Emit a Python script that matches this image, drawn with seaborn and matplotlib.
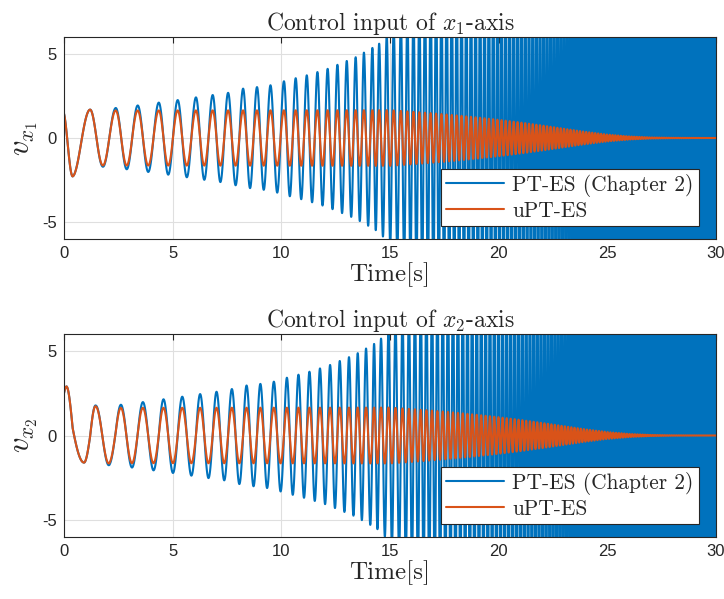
import numpy as np
import pandas as pd
import matplotlib
matplotlib.use("Agg")
import matplotlib.pyplot as plt
import seaborn as sns

# ---------------- data ----------------
# times of the x1 peaks (integer cycles), plus the
# start point (t=0) and the first trough (t=0.4)
x1_phase_t = [0.0, 0.4, 1.2, 2.38, 3.39, 4.36, 5.23, 6.07, 6.84, 7.55, 8.24,
              8.88, 9.5, 10.12, 10.66, 11.17, 11.66, 12.13, 12.58, 13.01,
              13.42, 13.8, 14.19, 14.5, 14.85, 15.17, 15.5, 15.8, 16.08,
              16.35, 16.61, 16.87, 17.12]
x1_phase_cyc = [0.068, 0.5] + list(range(1, 32))
# oscillation frequency (Hz) in the dense part, read from the stroke spacing
dense_t = [17.12, 18.0, 20.0, 22.0, 25.0, 30.0]
dense_hz = [4.0, 4.4, 5.2, 6.1, 7.6, 10.5]
# x2 lags x1 by about a quarter cycle
x2_lag_t = [0.0, 0.12, 0.92, 1.46, 4.0, 30.0]
x2_lag_cyc = [0.164, 0.198, 0.325, 0.22, 0.25, 0.25]

# amplitude envelopes (peak values)
pt_amp_t = [0.0, 0.4, 1.2, 1.75, 2.38, 3.39, 4.36, 5.23, 6.07, 6.84, 7.55,
            8.24, 8.88, 9.56, 10.1, 11.2, 12.1, 13.4, 14.19, 14.5, 14.85,
            15.5, 17.0, 20.0, 30.0]
pt_amp = [1.95, 1.95, 1.77, 1.7, 1.78, 1.93, 2.1, 2.25, 2.41, 2.55, 2.68,
          2.93, 3.02, 3.14, 3.36, 3.73, 4.09, 4.78, 5.35, 5.6, 6.1,
          7.0, 9.0, 12.0, 15.0]
upt_amp_t = [0.0, 0.4, 1.2, 1.75, 15.0, 16.0, 17.0, 18.0, 19.0, 20.0, 21.0,
             22.0, 23.0, 24.0, 25.0, 26.0, 27.0, 28.0, 30.0]
upt_amp = [1.95, 1.95, 1.77, 1.63, 1.65, 1.56, 1.46, 1.35, 1.22, 1.08, 0.92,
           0.74, 0.55, 0.36, 0.2, 0.09, 0.03, 0.01, 0.0]
# x2 start transient (overrides the envelopes before t = 2.1 s)
x2_early_t = [0.0, 0.12, 0.92, 1.46, 2.1]
x2_early_amp_upt = [2.25, 2.25, 1.9, 1.67, 1.65]
x2_early_amp_pt = [2.25, 2.25, 1.9, 1.72, 1.76]
# slow offsets of the start transient
x1_off_t = [0.0, 0.4, 0.8, 1.5]
x1_off = [-0.33, -0.33, -0.2, 0.0]
x2_off_t = [0.0, 0.12, 0.92, 1.46, 2.1]
x2_off = [0.65, 0.65, 0.3, 0.05, 0.0]

series_names = ["PT-ES (Chapter 2)", "uPT-ES"]
titles = [r"Control input of $x_1$-axis", r"Control input of $x_2$-axis"]
ylabels = [r"$v_{x_1}$", r"$v_{x_2}$"]
xticks = [0, 5, 10, 15, 20, 25, 30]
yticks = [-5, 0, 5]

# ---------------- build the signals from the read values ----------------
t = np.linspace(0, 30, 60001)
cyc = np.interp(t, x1_phase_t, x1_phase_cyc)
m = t > x1_phase_t[-1]
f_dense = np.interp(t, dense_t, dense_hz)
dt = t[1] - t[0]
cum = np.cumsum(f_dense * m) * dt
cyc = np.where(m, x1_phase_cyc[-1] + cum, cyc)
lag = np.interp(t, x2_lag_t, x2_lag_cyc)

A_pt = np.interp(t, pt_amp_t, pt_amp)
A_upt = np.interp(t, upt_amp_t, upt_amp)
early = t <= x2_early_t[-1]
A_pt2 = np.where(early, np.interp(t, x2_early_t, x2_early_amp_pt), A_pt)
A_upt2 = np.where(early, np.interp(t, x2_early_t, x2_early_amp_upt), A_upt)
off1 = np.interp(t, x1_off_t, x1_off)
off2 = np.interp(t, x2_off_t, x2_off)

c1 = np.cos(2 * np.pi * cyc)
c2 = np.cos(2 * np.pi * (cyc - lag))
sig = {
    0: (off1 + A_pt * c1, off1 + A_upt * c1),
    1: (off2 + A_pt2 * c2, off2 + A_upt2 * c2),
}

# ---------------- styling ----------------
sns.set_style("white")
plt.rcParams.update({
    "mathtext.fontset": "cm",
    "axes.unicode_minus": False,
    "agg.path.chunksize": 0,
    "path.simplify": False,
    "font.family": ["Liberation Sans", "DejaVu Sans"],
})
blue = "#0072BD"
orange = "#D95319"

fig = plt.figure(figsize=(7.24, 5.99), dpi=100)
W, H = 724, 599
boxes = [(64, 37, 716, 239), (64, 334, 716, 537)]

for i, (x0, y0, x1, y1) in enumerate(boxes):
    ax = fig.add_axes([x0 / W, 1 - y1 / H, (x1 - x0) / W, (y1 - y0) / H])
    pt, upt = sig[i]
    df = pd.DataFrame({
        "t": np.concatenate([t, t]),
        "v": np.concatenate([pt, upt]),
        "s": [series_names[0]] * len(t) + [series_names[1]] * len(t),
    })
    sns.lineplot(data=df, x="t", y="v", hue="s", hue_order=series_names,
                 palette=[blue, orange], estimator=None, sort=False,
                 linewidth=1.5, ax=ax)
    ax.set_xlim(0, 30)
    ax.set_ylim(-6, 6)
    ax.set_xticks(xticks)
    ax.set_yticks(yticks)
    ax.set_xticklabels([str(v) for v in xticks])
    ax.set_yticklabels([str(v) for v in yticks])
    ax.grid(True, color="#dfdfdf", linewidth=0.8)
    ax.set_axisbelow(True)
    ax.tick_params(direction="in", length=4, width=0.8, top=True, right=True,
                   labelsize=12, colors="#262626", pad=5)
    for sp in ax.spines.values():
        sp.set_color("#262626")
        sp.set_linewidth(0.8)
        sp.set_zorder(5)
    ax.set_title(titles[i], fontsize=17, family="cmr10", pad=5)
    ax.set_xlabel("Time[s]", fontsize=18, family="cmr10", labelpad=1)
    ax.set_ylabel(ylabels[i], fontsize=22, labelpad=2)
    leg = ax.legend(loc="lower right", bbox_to_anchor=(0.974, 0.064),
                    borderaxespad=0, fancybox=False, framealpha=1,
                    edgecolor="#262626", prop={"family": "cmr10", "size": 15.4},
                    handlelength=2.7, handletextpad=0.4, borderpad=0.25,
                    labelspacing=0.2)
    leg.get_frame().set_linewidth(0.8)
    for ln in leg.get_lines():
        ln.set_linewidth(1.5)

fig.savefig("out.png", dpi=100)
